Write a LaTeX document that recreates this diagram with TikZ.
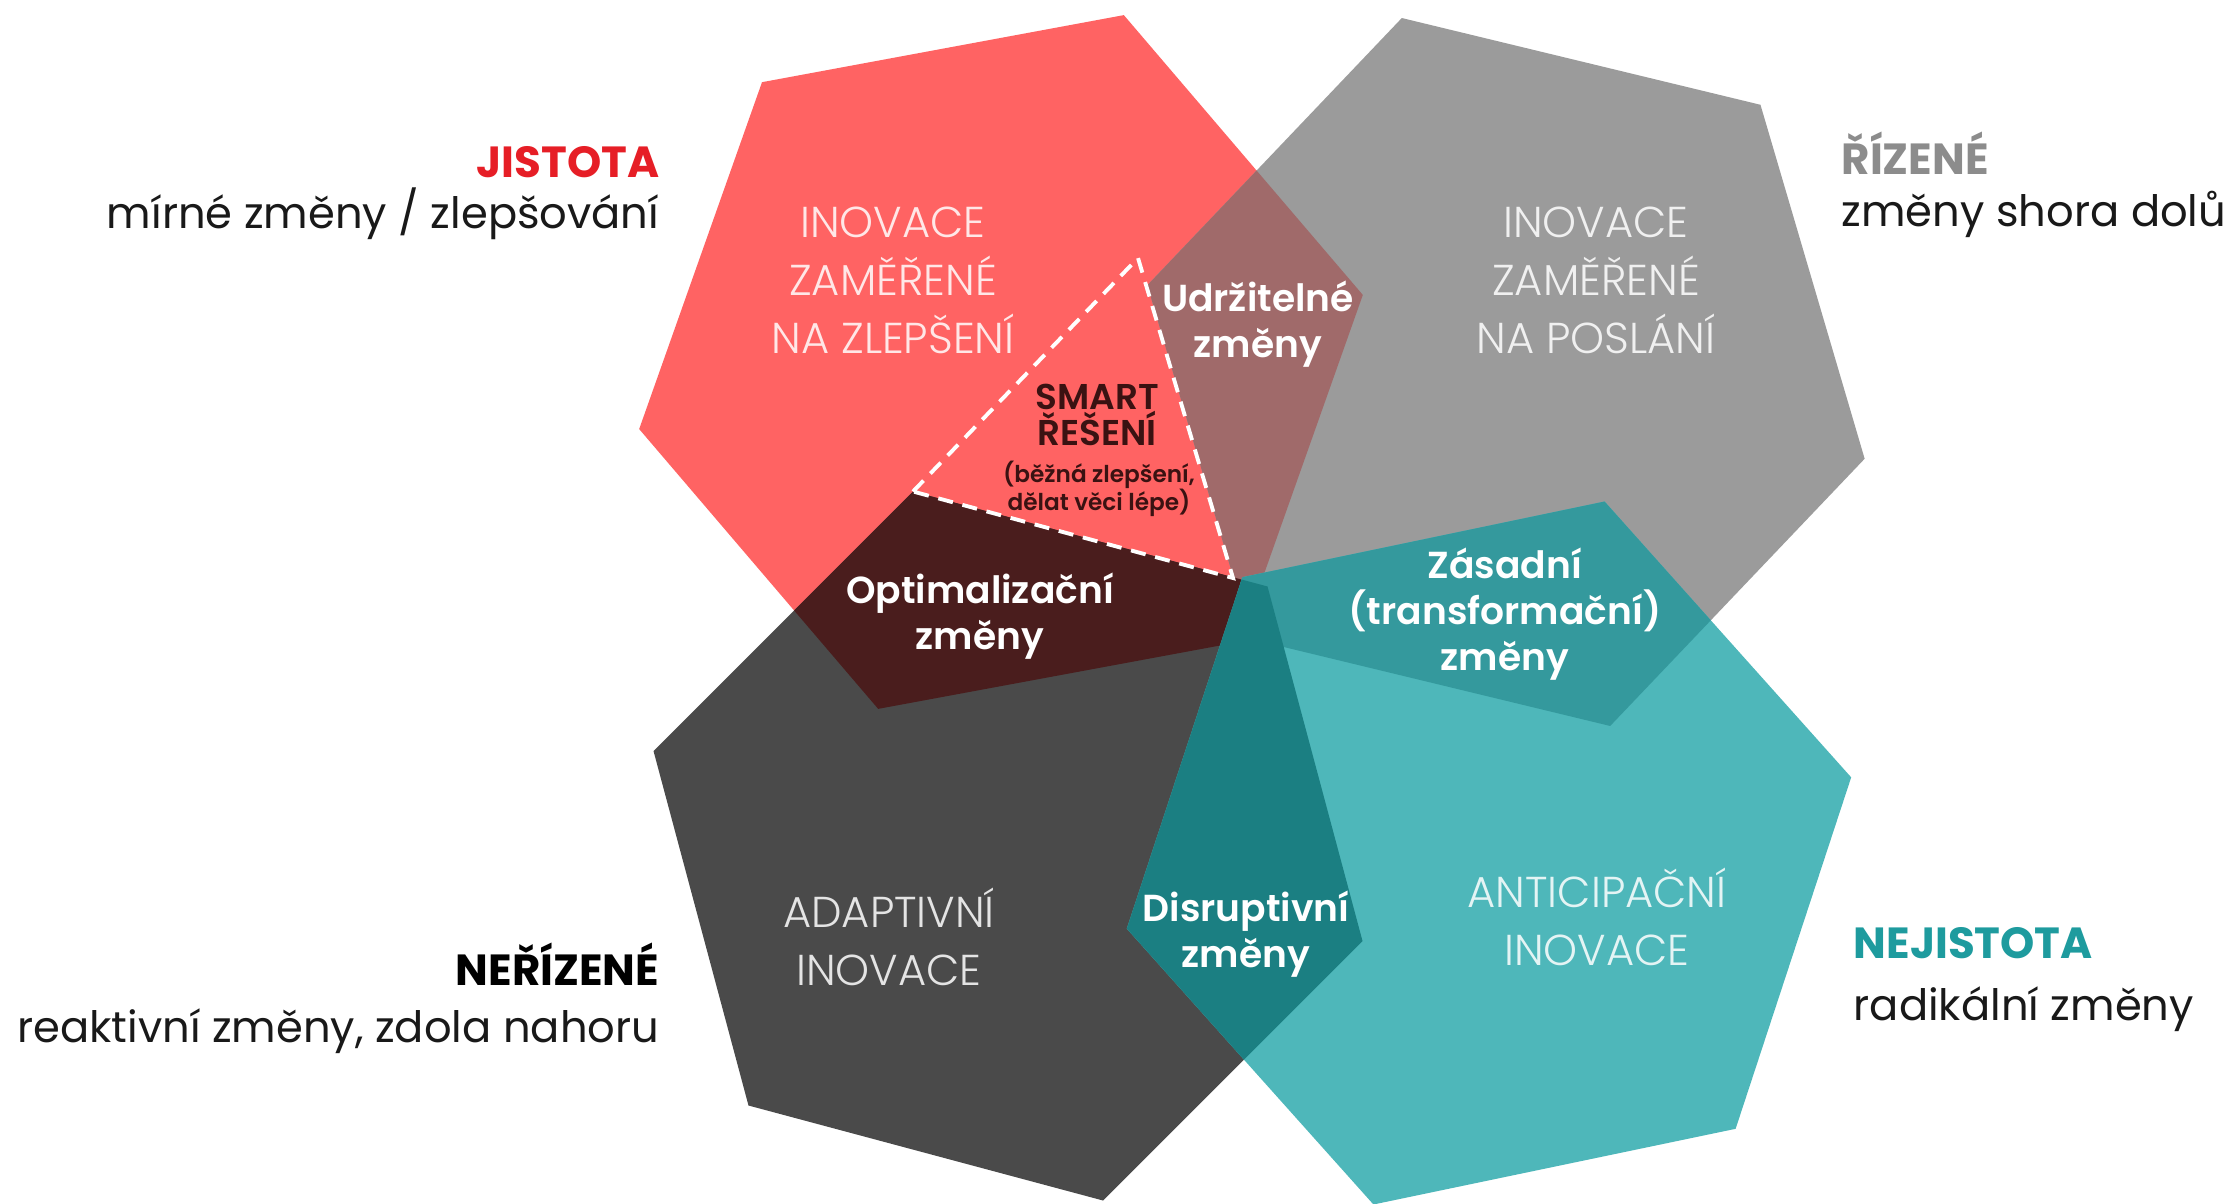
\documentclass[tikz,border=0pt]{standalone}
\usepackage{fontspec}
\setmainfont{Poppins}
\newfontfamily\lightfont{Poppins Light}
\newfontfamily\semifont{Poppins SemiBold}
\usetikzlibrary{calc}
\definecolor{certain}{RGB}{255,99,99}
\definecolor{controlled}{RGB}{155,155,155}
\definecolor{uncontrolled}{RGB}{74,74,74}
\definecolor{uncertain}{RGB}{78,183,186}
\definecolor{sustain}{RGB}{160,106,106}
\definecolor{optimize}{RGB}{74,29,29}
\definecolor{disrupt}{RGB}{27,127,130}
\definecolor{transform}{RGB}{52,153,157}
\definecolor{smarttext}{RGB}{58,18,18}
\definecolor{jistota}{RGB}{230,30,38}
\definecolor{rizene}{RGB}{140,140,140}
\definecolor{nejistota}{RGB}{30,155,158}
\tikzstyle{hextitle}=[align=center, inner sep=0, text=white, text opacity=.85, font=\lightfont\fontsize{12.3}{16.5}\selectfont]
\tikzset{overlap/.style={align=center, inner sep=0, text=white, font=\semifont\fontsize{10.7}{13.1}\selectfont}}
\tikzset{smart/.style={align=center, inner sep=0, text=smarttext, font=\semifont\fontsize{10.2}{10}\selectfont}}
\tikzset{smartnote/.style={align=center, inner sep=0, text=smarttext, font=\semifont\fontsize{6.6}{8}\selectfont}}
\tikzset{sidehead/.style={inner sep=0, font=\bfseries\fontsize{12.4}{15}\selectfont}}
\tikzset{sidetext/.style={inner sep=0, text=black!90, font=\fontsize{12.3}{15}\selectfont}}
\tikzset{smartline/.style={white, dashed, dash pattern=on 4.3pt off 2.8pt, line width=1.1pt}}
\newcommand{\hexagon}[1]{(#11) -- (#12) -- (#13) -- (#14) -- (#15) -- (#16) -- cycle}

\begin{document}
\begin{tikzpicture}
  \fill[white] (0,0) rectangle (22.31,-12.04);
  \useasboundingbox (0,0) rectangle (22.31,-12.04);

  %% Hexagon corners
  \foreach \i in {1,...,6} {
    \coordinate (R\i) at ($(10.01,-3.62)+(10.5+60*\i:3.68)$);
    \coordinate (G\i) at ($(15.06,-3.72)+(46.4+60*\i:3.69)$);
    \coordinate (D\i) at ($(10.08,-8.46)+(45+60*\i:3.67)$);
    \coordinate (T\i) at ($(14.89,-8.53)+(11.8+60*\i:3.70)$);
  }

  \fill[certain] \hexagon{R};
  \fill[controlled] \hexagon{G};
  \fill[uncontrolled] \hexagon{D};
  \begin{scope}
    \clip \hexagon{R};
    \fill[sustain] \hexagon{G};
    \fill[optimize] \hexagon{D};
  \end{scope}
  \fill[uncertain] \hexagon{T};
  \begin{scope}
    \clip \hexagon{T};
    \fill[transform] \hexagon{G};
    \fill[disrupt] \hexagon{D};
  \end{scope}

  %% Smart triangle
  \coordinate (smartTip) at (11.38,-2.58);
  \coordinate (smartMid) at (12.33,-5.78);
  \draw[smartline] (D1) -- (smartTip) -- (smartMid) -- cycle;

  %% Hexagon titles
  \draw (8.93,-2.80) node[hextitle] (Rt) {INOVACE\\ZAMĚŘENÉ\\NA ZLEPŠENÍ};
  \draw (15.96,-2.80) node[hextitle] (Gt) {INOVACE\\ZAMĚŘENÉ\\NA POSLÁNÍ};
  \draw (8.89,-9.37) node[hextitle] (Dt) {ADAPTIVNÍ\\INOVACE};
  \draw (15.97,-9.17) node[hextitle] (Tt) {ANTICIPAČNÍ\\INOVACE};

  %% Overlaps
  \draw (12.58,-3.24) node[overlap] (RG) {Udržitelné\\změny};
  \draw (9.80,-6.16) node[overlap] (RD) {Optimalizační\\změny};
  \draw (15.05,-6.14) node[overlap] (GT) {Zásadní\\(transformační)\\změny};
  \draw (12.46,-9.34) node[overlap] (DT) {Disruptivní\\změny};
  \draw (10.97,-4.15) node[smart] (S) {SMART\\ŘEŠENÍ};
  \draw (10.99,-4.89) node[smartnote] (Sn) {(běžná zlepšení,\\dělat věci lépe)};

  %% Side labels
  \draw (6.60,-1.78) node[sidehead, anchor=base east, text=jistota] (L1) {JISTOTA};
  \draw (6.60,-2.29) node[sidetext, anchor=base east] (L1s) {mírné změny / zlepšování};
  \draw (18.41,-1.75) node[sidehead, anchor=base west, text=rizene] (L2) {ŘÍZENÉ};
  \draw (18.41,-2.27) node[sidetext, anchor=base west] (L2s) {změny shora dolů};
  \draw (6.60,-9.85) node[sidehead, anchor=base east, text=black] (L3) {NEŘÍZENÉ};
  \draw (6.60,-10.42) node[sidetext, anchor=base east] (L3s) {reaktivní změny, zdola nahoru};
  \draw (18.53,-9.58) node[sidehead, anchor=base west, text=nejistota] (L4) {NEJISTOTA};
  \draw (18.53,-10.20) node[sidetext, anchor=base west] (L4s) {radikální změny};
\end{tikzpicture}
\end{document}
